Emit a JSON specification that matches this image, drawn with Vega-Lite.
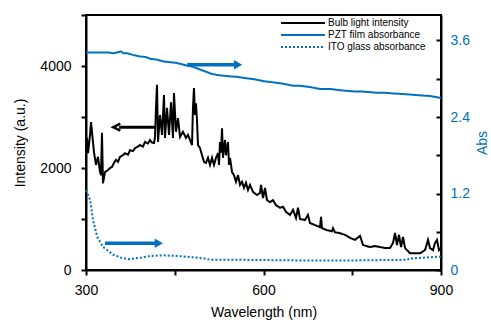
{
  "$schema": "https://vega.github.io/schema/vega-lite/v6.json",
  "width": 355,
  "height": 255,
  "autosize": "none",
  "padding": {"left": 86, "top": 15, "right": 50, "bottom": 52},
  "datasets": {
    "bulb": [
      {"wl":300.0,"v":2450,"series":"Bulb light intensity"},
      {"wl":301.7,"v":2590,"series":"Bulb light intensity"},
      {"wl":303.4,"v":2290,"series":"Bulb light intensity"},
      {"wl":306.8,"v":2650,"series":"Bulb light intensity"},
      {"wl":308.5,"v":2900,"series":"Bulb light intensity"},
      {"wl":311.8,"v":2510,"series":"Bulb light intensity"},
      {"wl":313.5,"v":2310,"series":"Bulb light intensity"},
      {"wl":316.9,"v":2060,"series":"Bulb light intensity"},
      {"wl":320.3,"v":2220,"series":"Bulb light intensity"},
      {"wl":323.7,"v":1920,"series":"Bulb light intensity"},
      {"wl":325.4,"v":1860,"series":"Bulb light intensity"},
      {"wl":327.0,"v":2690,"series":"Bulb light intensity"},
      {"wl":328.7,"v":1700,"series":"Bulb light intensity"},
      {"wl":332.1,"v":1920,"series":"Bulb light intensity"},
      {"wl":337.2,"v":1960,"series":"Bulb light intensity"},
      {"wl":340.6,"v":2000,"series":"Bulb light intensity"},
      {"wl":343.9,"v":2020,"series":"Bulb light intensity"},
      {"wl":347.3,"v":2100,"series":"Bulb light intensity"},
      {"wl":350.7,"v":2160,"series":"Bulb light intensity"},
      {"wl":354.1,"v":2120,"series":"Bulb light intensity"},
      {"wl":357.5,"v":2220,"series":"Bulb light intensity"},
      {"wl":362.5,"v":2250,"series":"Bulb light intensity"},
      {"wl":365.9,"v":2290,"series":"Bulb light intensity"},
      {"wl":371.0,"v":2260,"series":"Bulb light intensity"},
      {"wl":374.4,"v":2350,"series":"Bulb light intensity"},
      {"wl":379.4,"v":2330,"series":"Bulb light intensity"},
      {"wl":382.8,"v":2390,"series":"Bulb light intensity"},
      {"wl":387.9,"v":2420,"series":"Bulb light intensity"},
      {"wl":391.3,"v":2450,"series":"Bulb light intensity"},
      {"wl":396.3,"v":2420,"series":"Bulb light intensity"},
      {"wl":399.7,"v":2510,"series":"Bulb light intensity"},
      {"wl":404.8,"v":2480,"series":"Bulb light intensity"},
      {"wl":408.2,"v":2550,"series":"Bulb light intensity"},
      {"wl":411.5,"v":2500,"series":"Bulb light intensity"},
      {"wl":415.0,"v":2490,"series":"Bulb light intensity"},
      {"wl":416.6,"v":2610,"series":"Bulb light intensity"},
      {"wl":418.3,"v":3180,"series":"Bulb light intensity"},
      {"wl":420.0,"v":3630,"series":"Bulb light intensity"},
      {"wl":421.7,"v":2510,"series":"Bulb light intensity"},
      {"wl":425.1,"v":3040,"series":"Bulb light intensity"},
      {"wl":428.5,"v":2650,"series":"Bulb light intensity"},
      {"wl":431.8,"v":3430,"series":"Bulb light intensity"},
      {"wl":433.5,"v":2590,"series":"Bulb light intensity"},
      {"wl":436.9,"v":3180,"series":"Bulb light intensity"},
      {"wl":440.3,"v":2650,"series":"Bulb light intensity"},
      {"wl":443.7,"v":3290,"series":"Bulb light intensity"},
      {"wl":447.0,"v":2590,"series":"Bulb light intensity"},
      {"wl":448.7,"v":3470,"series":"Bulb light intensity"},
      {"wl":452.1,"v":2710,"series":"Bulb light intensity"},
      {"wl":455.5,"v":2980,"series":"Bulb light intensity"},
      {"wl":458.9,"v":2610,"series":"Bulb light intensity"},
      {"wl":463.9,"v":2710,"series":"Bulb light intensity"},
      {"wl":469.0,"v":2590,"series":"Bulb light intensity"},
      {"wl":472.4,"v":2650,"series":"Bulb light intensity"},
      {"wl":475.8,"v":2550,"series":"Bulb light intensity"},
      {"wl":479.2,"v":2450,"series":"Bulb light intensity"},
      {"wl":480.8,"v":3180,"series":"Bulb light intensity"},
      {"wl":482.5,"v":3570,"series":"Bulb light intensity"},
      {"wl":484.2,"v":3040,"series":"Bulb light intensity"},
      {"wl":485.9,"v":3270,"series":"Bulb light intensity"},
      {"wl":487.6,"v":2940,"series":"Bulb light intensity"},
      {"wl":489.3,"v":2450,"series":"Bulb light intensity"},
      {"wl":492.7,"v":2390,"series":"Bulb light intensity"},
      {"wl":496.1,"v":2250,"series":"Bulb light intensity"},
      {"wl":499.4,"v":2120,"series":"Bulb light intensity"},
      {"wl":502.8,"v":2100,"series":"Bulb light intensity"},
      {"wl":506.2,"v":2200,"series":"Bulb light intensity"},
      {"wl":509.6,"v":2060,"series":"Bulb light intensity"},
      {"wl":513.0,"v":2200,"series":"Bulb light intensity"},
      {"wl":516.3,"v":2060,"series":"Bulb light intensity"},
      {"wl":519.7,"v":2200,"series":"Bulb light intensity"},
      {"wl":523.1,"v":2290,"series":"Bulb light intensity"},
      {"wl":524.8,"v":2060,"series":"Bulb light intensity"},
      {"wl":526.5,"v":2510,"series":"Bulb light intensity"},
      {"wl":528.2,"v":2300,"series":"Bulb light intensity"},
      {"wl":529.9,"v":2780,"series":"Bulb light intensity"},
      {"wl":531.5,"v":2200,"series":"Bulb light intensity"},
      {"wl":534.9,"v":2550,"series":"Bulb light intensity"},
      {"wl":536.6,"v":2250,"series":"Bulb light intensity"},
      {"wl":540.0,"v":2510,"series":"Bulb light intensity"},
      {"wl":541.7,"v":2060,"series":"Bulb light intensity"},
      {"wl":543.4,"v":2200,"series":"Bulb light intensity"},
      {"wl":546.8,"v":1920,"series":"Bulb light intensity"},
      {"wl":550.1,"v":1860,"series":"Bulb light intensity"},
      {"wl":553.5,"v":1730,"series":"Bulb light intensity"},
      {"wl":556.9,"v":1860,"series":"Bulb light intensity"},
      {"wl":560.3,"v":1670,"series":"Bulb light intensity"},
      {"wl":563.7,"v":1730,"series":"Bulb light intensity"},
      {"wl":567.0,"v":1610,"series":"Bulb light intensity"},
      {"wl":570.4,"v":1710,"series":"Bulb light intensity"},
      {"wl":573.8,"v":1570,"series":"Bulb light intensity"},
      {"wl":577.2,"v":1670,"series":"Bulb light intensity"},
      {"wl":582.3,"v":1530,"series":"Bulb light intensity"},
      {"wl":589.0,"v":1470,"series":"Bulb light intensity"},
      {"wl":594.1,"v":1510,"series":"Bulb light intensity"},
      {"wl":595.8,"v":1670,"series":"Bulb light intensity"},
      {"wl":599.2,"v":1410,"series":"Bulb light intensity"},
      {"wl":602.5,"v":1610,"series":"Bulb light intensity"},
      {"wl":605.9,"v":1370,"series":"Bulb light intensity"},
      {"wl":611.0,"v":1330,"series":"Bulb light intensity"},
      {"wl":616.1,"v":1370,"series":"Bulb light intensity"},
      {"wl":621.1,"v":1270,"series":"Bulb light intensity"},
      {"wl":627.9,"v":1220,"series":"Bulb light intensity"},
      {"wl":633.0,"v":1240,"series":"Bulb light intensity"},
      {"wl":638.0,"v":1140,"series":"Bulb light intensity"},
      {"wl":644.8,"v":1080,"series":"Bulb light intensity"},
      {"wl":649.9,"v":1180,"series":"Bulb light intensity"},
      {"wl":654.9,"v":1020,"series":"Bulb light intensity"},
      {"wl":658.3,"v":1220,"series":"Bulb light intensity"},
      {"wl":661.7,"v":1000,"series":"Bulb light intensity"},
      {"wl":670.1,"v":980,"series":"Bulb light intensity"},
      {"wl":675.2,"v":1080,"series":"Bulb light intensity"},
      {"wl":678.6,"v":920,"series":"Bulb light intensity"},
      {"wl":687.0,"v":880,"series":"Bulb light intensity"},
      {"wl":695.5,"v":840,"series":"Bulb light intensity"},
      {"wl":697.2,"v":1040,"series":"Bulb light intensity"},
      {"wl":698.9,"v":820,"series":"Bulb light intensity"},
      {"wl":707.3,"v":780,"series":"Bulb light intensity"},
      {"wl":715.8,"v":760,"series":"Bulb light intensity"},
      {"wl":717.5,"v":820,"series":"Bulb light intensity"},
      {"wl":720.8,"v":740,"series":"Bulb light intensity"},
      {"wl":729.3,"v":720,"series":"Bulb light intensity"},
      {"wl":737.7,"v":690,"series":"Bulb light intensity"},
      {"wl":746.2,"v":630,"series":"Bulb light intensity"},
      {"wl":754.6,"v":590,"series":"Bulb light intensity"},
      {"wl":763.1,"v":670,"series":"Bulb light intensity"},
      {"wl":768.2,"v":490,"series":"Bulb light intensity"},
      {"wl":779.9,"v":450,"series":"Bulb light intensity"},
      {"wl":788.4,"v":470,"series":"Bulb light intensity"},
      {"wl":796.9,"v":450,"series":"Bulb light intensity"},
      {"wl":805.4,"v":430,"series":"Bulb light intensity"},
      {"wl":813.8,"v":430,"series":"Bulb light intensity"},
      {"wl":818.9,"v":530,"series":"Bulb light intensity"},
      {"wl":822.3,"v":725,"series":"Bulb light intensity"},
      {"wl":825.6,"v":490,"series":"Bulb light intensity"},
      {"wl":829.0,"v":690,"series":"Bulb light intensity"},
      {"wl":832.4,"v":450,"series":"Bulb light intensity"},
      {"wl":835.8,"v":650,"series":"Bulb light intensity"},
      {"wl":839.2,"v":430,"series":"Bulb light intensity"},
      {"wl":842.5,"v":390,"series":"Bulb light intensity"},
      {"wl":847.6,"v":330,"series":"Bulb light intensity"},
      {"wl":856.0,"v":330,"series":"Bulb light intensity"},
      {"wl":864.5,"v":330,"series":"Bulb light intensity"},
      {"wl":873.0,"v":390,"series":"Bulb light intensity"},
      {"wl":878.0,"v":590,"series":"Bulb light intensity"},
      {"wl":881.4,"v":430,"series":"Bulb light intensity"},
      {"wl":886.5,"v":390,"series":"Bulb light intensity"},
      {"wl":889.9,"v":530,"series":"Bulb light intensity"},
      {"wl":893.2,"v":590,"series":"Bulb light intensity"},
      {"wl":896.6,"v":390,"series":"Bulb light intensity"},
      {"wl":900.0,"v":430,"series":"Bulb light intensity"}
    ],
    "abs": [
      {"wl":300,"v":3.41,"series":"PZT film absorbance"},
      {"wl":320,"v":3.41,"series":"PZT film absorbance"},
      {"wl":339,"v":3.41,"series":"PZT film absorbance"},
      {"wl":346,"v":3.40,"series":"PZT film absorbance"},
      {"wl":352,"v":3.41,"series":"PZT film absorbance"},
      {"wl":359,"v":3.43,"series":"PZT film absorbance"},
      {"wl":363,"v":3.40,"series":"PZT film absorbance"},
      {"wl":369,"v":3.40,"series":"PZT film absorbance"},
      {"wl":381,"v":3.37,"series":"PZT film absorbance"},
      {"wl":391,"v":3.35,"series":"PZT film absorbance"},
      {"wl":401,"v":3.34,"series":"PZT film absorbance"},
      {"wl":410,"v":3.31,"series":"PZT film absorbance"},
      {"wl":420,"v":3.30,"series":"PZT film absorbance"},
      {"wl":432,"v":3.27,"series":"PZT film absorbance"},
      {"wl":442,"v":3.26,"series":"PZT film absorbance"},
      {"wl":452,"v":3.25,"series":"PZT film absorbance"},
      {"wl":461,"v":3.23,"series":"PZT film absorbance"},
      {"wl":469,"v":3.21,"series":"PZT film absorbance"},
      {"wl":479,"v":3.19,"series":"PZT film absorbance"},
      {"wl":486,"v":3.17,"series":"PZT film absorbance"},
      {"wl":494,"v":3.14,"series":"PZT film absorbance"},
      {"wl":503,"v":3.11,"series":"PZT film absorbance"},
      {"wl":511,"v":3.08,"series":"PZT film absorbance"},
      {"wl":521,"v":3.06,"series":"PZT film absorbance"},
      {"wl":530,"v":3.05,"series":"PZT film absorbance"},
      {"wl":540,"v":3.04,"series":"PZT film absorbance"},
      {"wl":555,"v":3.03,"series":"PZT film absorbance"},
      {"wl":569,"v":3.01,"series":"PZT film absorbance"},
      {"wl":586,"v":2.99,"series":"PZT film absorbance"},
      {"wl":601,"v":2.96,"series":"PZT film absorbance"},
      {"wl":611,"v":2.95,"series":"PZT film absorbance"},
      {"wl":628,"v":2.93,"series":"PZT film absorbance"},
      {"wl":640,"v":2.91,"series":"PZT film absorbance"},
      {"wl":650,"v":2.89,"series":"PZT film absorbance"},
      {"wl":662,"v":2.89,"series":"PZT film absorbance"},
      {"wl":679,"v":2.87,"series":"PZT film absorbance"},
      {"wl":695,"v":2.84,"series":"PZT film absorbance"},
      {"wl":712,"v":2.84,"series":"PZT film absorbance"},
      {"wl":729,"v":2.82,"series":"PZT film absorbance"},
      {"wl":741,"v":2.81,"series":"PZT film absorbance"},
      {"wl":755,"v":2.80,"series":"PZT film absorbance"},
      {"wl":766,"v":2.80,"series":"PZT film absorbance"},
      {"wl":780,"v":2.79,"series":"PZT film absorbance"},
      {"wl":792,"v":2.78,"series":"PZT film absorbance"},
      {"wl":805,"v":2.78,"series":"PZT film absorbance"},
      {"wl":819,"v":2.77,"series":"PZT film absorbance"},
      {"wl":836,"v":2.76,"series":"PZT film absorbance"},
      {"wl":851,"v":2.75,"series":"PZT film absorbance"},
      {"wl":864,"v":2.74,"series":"PZT film absorbance"},
      {"wl":881,"v":2.73,"series":"PZT film absorbance"},
      {"wl":893,"v":2.71,"series":"PZT film absorbance"},
      {"wl":900,"v":2.70,"series":"PZT film absorbance"},
      {"wl":300,"v":1.25,"series":"ITO glass absorbance"},
      {"wl":307,"v":1.10,"series":"ITO glass absorbance"},
      {"wl":312,"v":0.78,"series":"ITO glass absorbance"},
      {"wl":319,"v":0.52,"series":"ITO glass absorbance"},
      {"wl":329,"v":0.36,"series":"ITO glass absorbance"},
      {"wl":346,"v":0.24,"series":"ITO glass absorbance"},
      {"wl":360,"v":0.19,"series":"ITO glass absorbance"},
      {"wl":371,"v":0.17,"series":"ITO glass absorbance"},
      {"wl":391,"v":0.19,"series":"ITO glass absorbance"},
      {"wl":408,"v":0.22,"series":"ITO glass absorbance"},
      {"wl":430,"v":0.23,"series":"ITO glass absorbance"},
      {"wl":454,"v":0.22,"series":"ITO glass absorbance"},
      {"wl":480,"v":0.20,"series":"ITO glass absorbance"},
      {"wl":500,"v":0.18,"series":"ITO glass absorbance"},
      {"wl":510,"v":0.16,"series":"ITO glass absorbance"},
      {"wl":560,"v":0.16,"series":"ITO glass absorbance"},
      {"wl":662,"v":0.15,"series":"ITO glass absorbance"},
      {"wl":750,"v":0.15,"series":"ITO glass absorbance"},
      {"wl":843,"v":0.16,"series":"ITO glass absorbance"},
      {"wl":846,"v":0.18,"series":"ITO glass absorbance"},
      {"wl":900,"v":0.21,"series":"ITO glass absorbance"}
    ],
    "arrowsL": [
      {"start":417,"end":356,"head":352,"v":2800}
    ],
    "arrowsR": [
      {"start":471,"end":555,"head":557,"v":3.22},
      {"start":332,"end":421,"head":423,"v":0.42}
    ]
  },
  "layer": [
    {
      "layer": [
        {
          "data": {"name": "bulb"},
          "mark": {"type": "line", "strokeWidth": 2},
          "encoding": {
            "x": {"field": "wl", "type": "quantitative", "title": "Wavelength (nm)", "scale": {"domain": [300, 900], "nice": false, "zero": false}, "axis": {"values": [300, 450, 600, 750, 900], "labelExpr": "datum.value % 300 == 0 ? datum.label : ''", "format": "d", "labelFlush": false}},
            "y": {"field": "v", "type": "quantitative", "title": "Intensity (a.u.)", "scale": {"domain": [0, 5000], "nice": false}, "axis": {"values": [0, 1000, 2000, 3000, 4000, 5000], "labelExpr": "datum.value % 2000 == 0 ? datum.label : ''", "format": "d"}},
            "color": {"field": "series", "type": "nominal", "scale": {"domain": ["Bulb light intensity", "PZT film absorbance", "ITO glass absorbance"], "range": ["#000000", "#0070C0", "#0070C0"]}, "legend": {"orient": "none", "legendX": 210.5, "legendY": 1.5, "title": null}},
            "strokeDash": {"field": "series", "type": "nominal", "scale": {"domain": ["Bulb light intensity", "PZT film absorbance", "ITO glass absorbance"], "range": [[1, 0], [1, 0], [2, 2]]}, "legend": {"orient": "none", "legendX": 210.5, "legendY": 1.5, "title": null}}
          }
        },
        {
          "data": {"name": "arrowsL"},
          "mark": {"type": "rule", "strokeWidth": 3, "color": "#000000"},
          "encoding": {
            "x": {"field": "start", "type": "quantitative", "title": "Wavelength (nm)", "scale": {"domain": [300, 900], "nice": false, "zero": false}, "axis": {"values": [300, 450, 600, 750, 900], "labelExpr": "datum.value % 300 == 0 ? datum.label : ''", "format": "d", "labelFlush": false}},
            "x2": {"field": "end"},
            "y": {"field": "v", "type": "quantitative", "title": "Intensity (a.u.)", "scale": {"domain": [0, 5000], "nice": false}, "axis": {"values": [0, 1000, 2000, 3000, 4000, 5000], "labelExpr": "datum.value % 2000 == 0 ? datum.label : ''", "format": "d"}}
          }
        },
        {
          "data": {"name": "arrowsL"},
          "mark": {"type": "point", "shape": "M1,-1L-1,0L1,1", "filled": false, "stroke": "#000000", "strokeWidth": 2.5, "size": 50, "opacity": 1},
          "encoding": {
            "x": {"field": "head", "type": "quantitative", "title": "Wavelength (nm)", "scale": {"domain": [300, 900], "nice": false, "zero": false}, "axis": {"values": [300, 450, 600, 750, 900], "labelExpr": "datum.value % 300 == 0 ? datum.label : ''", "format": "d", "labelFlush": false}},
            "y": {"field": "v", "type": "quantitative", "title": "Intensity (a.u.)", "scale": {"domain": [0, 5000], "nice": false}, "axis": {"values": [0, 1000, 2000, 3000, 4000, 5000], "labelExpr": "datum.value % 2000 == 0 ? datum.label : ''", "format": "d"}}
          }
        }
      ]
    },
    {
      "layer": [
        {
          "data": {"name": "abs"},
          "mark": {"type": "line", "strokeWidth": 2},
          "encoding": {
            "x": {"field": "wl", "type": "quantitative", "title": "Wavelength (nm)", "scale": {"domain": [300, 900], "nice": false, "zero": false}, "axis": {"values": [300, 450, 600, 750, 900], "labelExpr": "datum.value % 300 == 0 ? datum.label : ''", "format": "d", "labelFlush": false}},
            "y": {"field": "v", "type": "quantitative", "title": "Abs", "scale": {"domain": [0, 4], "nice": false}, "axis": {"orient": "right", "values": [0, 0.6, 1.2, 1.8, 2.4, 3.0, 3.6], "labelExpr": "round(datum.value * 10) % 12 == 0 ? datum.label : ''", "format": ".1~f", "tickSize": -5, "labelPadding": 14, "titleAngle": 270, "titlePadding": 20}},
            "color": {"field": "series", "type": "nominal", "scale": {"domain": ["Bulb light intensity", "PZT film absorbance", "ITO glass absorbance"], "range": ["#000000", "#0070C0", "#0070C0"]}, "legend": {"orient": "none", "legendX": 210.5, "legendY": 1.5, "title": null}},
            "strokeDash": {"field": "series", "type": "nominal", "scale": {"domain": ["Bulb light intensity", "PZT film absorbance", "ITO glass absorbance"], "range": [[1, 0], [1, 0], [2, 2]]}, "legend": {"orient": "none", "legendX": 210.5, "legendY": 1.5, "title": null}}
          }
        },
        {
          "data": {"name": "arrowsR"},
          "mark": {"type": "rule", "strokeWidth": 3.5, "color": "#0070C0"},
          "encoding": {
            "x": {"field": "start", "type": "quantitative", "title": "Wavelength (nm)", "scale": {"domain": [300, 900], "nice": false, "zero": false}, "axis": {"values": [300, 450, 600, 750, 900], "labelExpr": "datum.value % 300 == 0 ? datum.label : ''", "format": "d", "labelFlush": false}},
            "x2": {"field": "end"},
            "y": {"field": "v", "type": "quantitative", "title": "Abs", "scale": {"domain": [0, 4], "nice": false}, "axis": {"orient": "right", "values": [0, 0.6, 1.2, 1.8, 2.4, 3.0, 3.6], "labelExpr": "round(datum.value * 10) % 12 == 0 ? datum.label : ''", "format": ".1~f", "tickSize": -5, "labelPadding": 14, "titleAngle": 270, "titlePadding": 20}}
          }
        },
        {
          "data": {"name": "arrowsR"},
          "mark": {"type": "point", "shape": "triangle-right", "filled": true, "color": "#0070C0", "size": 90, "opacity": 1},
          "encoding": {
            "x": {"field": "head", "type": "quantitative", "title": "Wavelength (nm)", "scale": {"domain": [300, 900], "nice": false, "zero": false}, "axis": {"values": [300, 450, 600, 750, 900], "labelExpr": "datum.value % 300 == 0 ? datum.label : ''", "format": "d", "labelFlush": false}},
            "y": {"field": "v", "type": "quantitative", "title": "Abs", "scale": {"domain": [0, 4], "nice": false}, "axis": {"orient": "right", "values": [0, 0.6, 1.2, 1.8, 2.4, 3.0, 3.6], "labelExpr": "round(datum.value * 10) % 12 == 0 ? datum.label : ''", "format": ".1~f", "tickSize": -5, "labelPadding": 14, "titleAngle": 270, "titlePadding": 20}}
          }
        }
      ]
    }
  ],
  "resolve": {"scale": {"y": "independent"}},
  "config": {
    "font": "Arial",
    "view": {"stroke": "#000000", "strokeWidth": 2},
    "axis": {
      "grid": false,
      "domainColor": "#000000",
      "domainWidth": 2,
      "tickColor": "#000000",
      "tickWidth": 2,
      "tickSize": 5,
      "labelFont": "Arial",
      "titleFont": "Arial",
      "labelFontSize": 14,
      "titleFontSize": 14,
      "titleFontWeight": "normal",
      "labelColor": "#000000",
      "titleColor": "#000000",
      "labelPadding": 9,
      "titlePadding": 12
    },
    "axisBottom": {"labelPadding": 8, "titlePadding": 8, "labelFlush": false},
    "axisLeft": {"labelPadding": 10, "titlePadding": 12},
    "axisRight": {"labelColor": "#0070C0", "titleColor": "#0070C0"},
    "legend": {
      "labelFont": "Arial",
      "labelFontSize": 10,
      "labelColor": "#000000",
      "symbolType": "M-4,0H4",
      "symbolSize": 121,
      "symbolStrokeWidth": 2,
      "rowPadding": 0,
      "padding": 0,
      "labelOffset": 18.5
    }
  }
}
